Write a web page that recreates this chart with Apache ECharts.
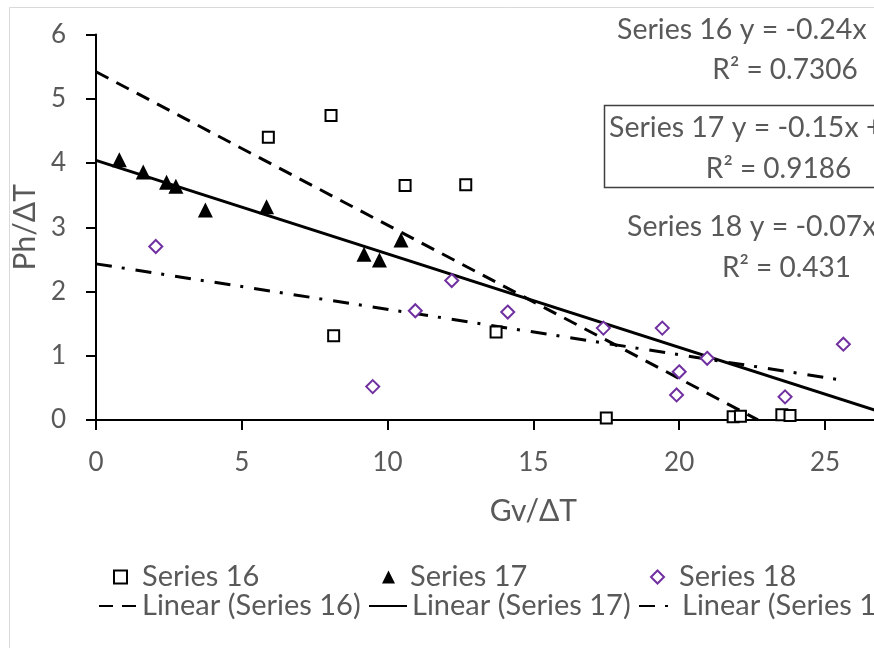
<!DOCTYPE html>
<html>
<head>
<meta charset="utf-8">
<script src="https://cdn.jsdelivr.net/npm/echarts@6/dist/echarts.min.js"></script>
<style>
  html, body { margin: 0; padding: 0; background: #ffffff; overflow: hidden; }
  /* plot area continues past the right edge of the window */
  #chart { width: 1000px; height: 648px; }
</style>
</head>
<body>
<div id="chart"></div>
<script>
// Measured points: x = Gv/ΔT, y = Ph/ΔT
const series16X = [5.91, 8.06, 8.15, 10.60, 12.68, 13.72, 17.50, 21.85, 22.10, 23.52, 23.80];
const series16Y = [4.40, 4.74, 1.31, 3.65, 3.66, 1.37, 0.03, 0.05, 0.06, 0.08, 0.07];

const series17X = [0.80, 1.62, 2.42, 2.74, 3.75, 5.85, 9.19, 9.72, 10.46];
const series17Y = [4.05, 3.86, 3.70, 3.64, 3.27, 3.32, 2.58, 2.49, 2.80];

const series18X = [2.05, 9.49, 10.95, 12.20, 14.12, 17.40, 19.42, 19.91, 20.00, 20.96, 23.63, 25.63];
const series18Y = [2.70, 0.52, 1.70, 2.17, 1.68, 1.43, 1.43, 0.39, 0.75, 0.96, 0.36, 1.18];

// Linear fits (Series 16, 17, 18)
const seriesNames = ['Series 16', 'Series 17', 'Series 18'];
const trendSlopes = [-0.2387, -0.1455, -0.0707];
const trendIntercepts = [5.42, 4.04, 2.43];
const trendR2 = ['0.7306', '0.9186', '0.431'];
const trendStart = [0, 0, 0];
const trendEnd = [22.7, 30, 25.6];

// Axis ticks
const xTicks = [0, 5, 10, 15, 20, 25, 30];
const yTicks = [0, 1, 2, 3, 4, 5, 6];

const FONT = 'Lato';
const GREY = '#595959';

function pairs(xs, ys) { return xs.map((x, i) => [x, ys[i]]); }
function trendData(i) {
  return [trendStart[i], trendEnd[i]].map(x => [x, trendIntercepts[i] + trendSlopes[i] * x]);
}
function equation(i) {
  const b = trendIntercepts[i];
  return seriesNames[i] + ' y = ' + trendSlopes[i].toFixed(2) + 'x ' + (b >= 0 ? '+ ' : '- ') + Math.abs(b).toFixed(2);
}

const chart = echarts.init(document.getElementById('chart'), null, { renderer: 'canvas' });

const scatterBase = { type: 'scatter', z: 5 };
const lineBase = { type: 'line', showSymbol: false, symbol: 'none', silent: true, z: 3, color: '#000000' };

chart.setOption({
  backgroundColor: '#ffffff',
  animation: false,
  textStyle: { fontFamily: FONT },
  grid: { left: 96, top: 34.5, right: 29.2, bottom: 228, containLabel: false },
  xAxis: {
    type: 'value',
    min: xTicks[0], max: xTicks[xTicks.length - 1], interval: xTicks[1] - xTicks[0],
    name: 'Gv/ΔT', nameLocation: 'middle', nameGap: 76,
    nameTextStyle: { color: GREY, fontSize: 30, fontFamily: FONT },
    axisLine: { lineStyle: { color: '#000000', width: 2 } },
    axisTick: { show: true, inside: false, length: 10, lineStyle: { color: '#000000', width: 2 } },
    axisLabel: { color: GREY, fontSize: 26, fontFamily: FONT, margin: 30 },
    splitLine: { show: false }
  },
  yAxis: {
    type: 'value',
    min: yTicks[0], max: yTicks[yTicks.length - 1], interval: yTicks[1] - yTicks[0],
    name: 'Ph/ΔT', nameLocation: 'middle', nameGap: 35,
    nameTextStyle: { color: GREY, fontSize: 30, fontFamily: FONT },
    axisLine: { show: true, lineStyle: { color: '#000000', width: 2 } },
    axisTick: { show: true, inside: false, length: 10, lineStyle: { color: '#000000', width: 2 } },
    axisLabel: { color: GREY, fontSize: 26, fontFamily: FONT, margin: 30 },
    splitLine: { show: false }
  },
  legend: [
    {
      data: seriesNames,
      left: 108, top: 557, width: 1400, orient: 'horizontal',
      itemWidth: 13, itemHeight: 13, itemGap: 0,
      textStyle: { color: GREY, fontSize: 29, fontFamily: FONT, width: 240, lineHeight: 30,
                   overflow: 'none', padding: [0, 0, 0, 10] }
    },
    {
      data: seriesNames.map(n => 'Linear (' + n + ')'),
      left: 93, top: 586, width: 1400, orient: 'horizontal',
      itemWidth: 38, itemHeight: 13, itemGap: 0,
      itemStyle: { opacity: 0 },
      textStyle: { color: GREY, fontSize: 29, fontFamily: FONT, width: 226, lineHeight: 30, overflow: 'none' }
    }
  ],
  series: [
    Object.assign({}, lineBase, {
      name: 'Linear (Series 16)', data: trendData(0),
      lineStyle: { color: '#000000', width: 3, type: [14, 9] }
    }),
    Object.assign({}, lineBase, {
      name: 'Linear (Series 17)', data: trendData(1),
      lineStyle: { color: '#000000', width: 3, type: 'solid' }
    }),
    Object.assign({}, lineBase, {
      name: 'Linear (Series 18)', data: trendData(2),
      lineStyle: { color: '#000000', width: 3, type: [16, 10, 3, 11] }
    }),
    Object.assign({}, scatterBase, {
      name: 'Series 16', data: pairs(series16X, series16Y),
      symbol: 'rect', symbolSize: 11,
      itemStyle: { color: '#ffffff', borderColor: '#000000', borderWidth: 2, opacity: 1 }
    }),
    Object.assign({}, scatterBase, {
      name: 'Series 17', data: pairs(series17X, series17Y),
      symbol: 'triangle', symbolSize: 15,
      itemStyle: { color: '#000000', opacity: 1 }
    }),
    Object.assign({}, scatterBase, {
      name: 'Series 18', data: pairs(series18X, series18Y),
      symbol: 'diamond', symbolSize: 13,
      itemStyle: { color: '#ffffff', borderColor: '#7030A0', borderWidth: 2, opacity: 1 }
    })
  ],
  graphic: [
    // chart frame
    { type: 'rect', z: -10, silent: true,
      shape: { x: 9.5, y: 7.5, width: 1200, height: 800 },
      style: { fill: 'none', stroke: '#d9d9d9', lineWidth: 1 } },
    // boxed label for Series 17
    { type: 'rect', z: 10, silent: true,
      shape: { x: 604.5, y: 105.5, width: 500, height: 82 },
      style: { fill: '#ffffff', stroke: '#404040', lineWidth: 1.5 } },
    // trendline equations and R²
    { type: 'text', z: 11, silent: true, left: 617, top: 15,
      style: { text: equation(0), fill: GREY, font: '28.5px ' + FONT } },
    { type: 'text', z: 11, silent: true, x: 785, y: 70,
      style: { text: 'R² = ' + trendR2[0], fill: GREY, font: '28px ' + FONT, align: 'center', verticalAlign: 'middle' } },
    { type: 'text', z: 11, silent: true, left: 609, top: 113,
      style: { text: equation(1), fill: GREY, font: '28.5px ' + FONT } },
    { type: 'text', z: 11, silent: true, x: 778.5, y: 169,
      style: { text: 'R² = ' + trendR2[1], fill: GREY, font: '28px ' + FONT, align: 'center', verticalAlign: 'middle' } },
    { type: 'text', z: 11, silent: true, left: 627, top: 212,
      style: { text: equation(2), fill: GREY, font: '28.5px ' + FONT } },
    { type: 'text', z: 11, silent: true, x: 786.5, y: 268,
      style: { text: 'R² = ' + trendR2[2], fill: GREY, font: '28px ' + FONT, align: 'center', verticalAlign: 'middle' } }
  ]
});
</script>
</body>
</html>
